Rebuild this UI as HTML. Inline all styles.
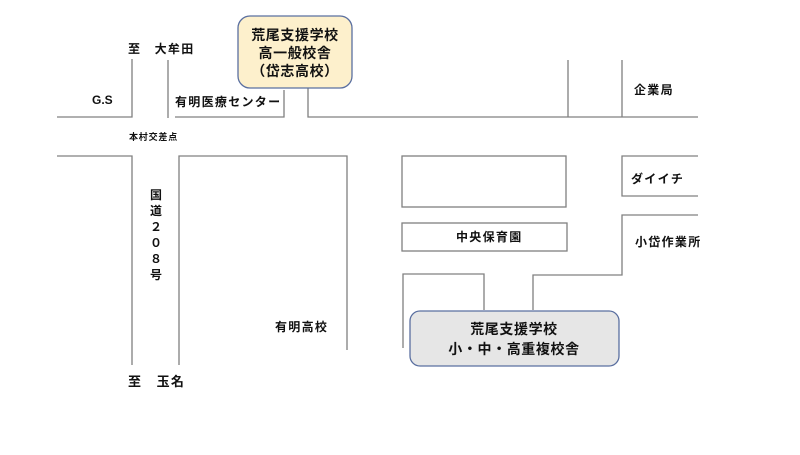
<!DOCTYPE html>
<html><head><meta charset="utf-8"><style>
body{margin:0;background:#fff;width:800px;height:450px;overflow:hidden}
svg text{font-family:"Liberation Sans","Noto Sans CJK JP",sans-serif;font-weight:bold;fill:#111}
</style></head><body>
<svg width="800" height="450" xmlns="http://www.w3.org/2000/svg">
<g stroke="#808080" stroke-width="1.3" fill="none">
<polyline points="57,117 132,117 132,59"/>
<line x1="168" y1="60" x2="168" y2="118"/>
<polyline points="175,117 284,117 284,90"/>
<polyline points="308,88 308,117 698,117"/>
<line x1="568" y1="60" x2="568" y2="117"/>
<line x1="622" y1="60" x2="622" y2="117"/>
<polyline points="57,156 132,156 132,365"/>
<polyline points="179,365 179,156 347,156 347,350"/>
<rect x="402" y="156" width="164" height="51"/>
<polyline points="698,156 622,156 622,196 698,196"/>
<rect x="402" y="223" width="165" height="28"/>
<polyline points="403,348 403,274 484,274 484,310"/>
<polyline points="533,310 533,275 622,275 622,215 698,215"/>
</g>
<rect x="238" y="16" width="114" height="72" rx="12" fill="#fdf0cc" stroke="#5a6fa0" stroke-width="1.3"/>
<rect x="410" y="311" width="209" height="55" rx="10" fill="#e6e6e6" stroke="#5a6fa0" stroke-width="1.3"/>
<g font-size="14" text-anchor="middle" letter-spacing="0.6">
<text x="295" y="40">荒尾支援学校</text>
<text x="295" y="58">高一般校舎</text>
<text x="295" y="76">（岱志高校）</text>
<text x="514" y="334">荒尾支援学校</text>
<text x="514" y="354">小・中・高重複校舎</text>
</g>
<g font-size="12" letter-spacing="1.3">
<text x="128" y="53">至　大牟田</text>
<text x="92" y="104" font-family="Liberation Mono" letter-spacing="0">G.S</text>
<text x="175" y="106">有明医療センター</text>
<text x="129" y="140" font-size="9" letter-spacing="0.8">本村交差点</text>
<text x="634" y="94">企業局</text>
<text x="631" y="183">ダイイチ</text>
<text x="456" y="241">中央保育園</text>
<text x="635" y="246">小岱作業所</text>
<text x="275" y="331">有明高校</text>
<text x="128" y="386" font-size="13">至　玉名</text>
</g>
<g font-size="12" text-anchor="middle">
<text x="156" y="199">国</text>
<text x="156" y="215">道</text>
<text x="156" y="231">２</text>
<text x="156" y="247">０</text>
<text x="156" y="263">８</text>
<text x="156" y="279">号</text>
</g>
</svg>
</body></html>
